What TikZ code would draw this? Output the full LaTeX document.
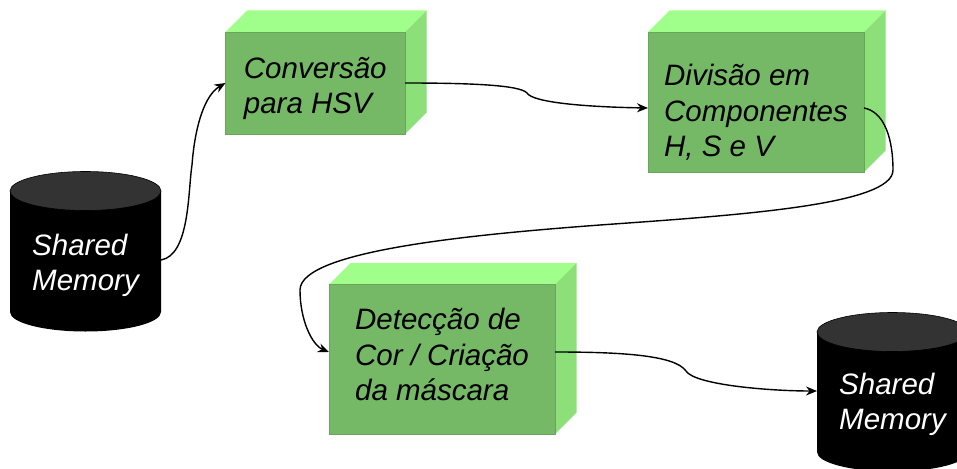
\documentclass[tikz,border=0pt]{standalone}
\usepackage{fontspec}
\setmainfont{Liberation Sans}
\usetikzlibrary{arrows.meta}
\definecolor{frontgreen}{HTML}{75B866}
\definecolor{frontedge}{HTML}{69A65B}
\definecolor{topgreen}{HTML}{A0FF8A}
\definecolor{sidegreen}{HTML}{8CDF79}
\definecolor{cyltop}{HTML}{333333}
\tikzset{
  x=1pt,y=-1pt,
  lbl/.style={font=\fontsize{29.5}{35.8}\itshape\selectfont,align=left,inner sep=0pt,outer sep=0pt},
  boxlbl/.style={lbl,text=black},
  cyllbl/.style={lbl,text=white},
  front/.style={fill=frontgreen,draw=frontedge,line width=0.6pt},
  topface/.style={fill=topgreen},
  sideface/.style={fill=sidegreen},
  link/.style={draw=black,line width=1.4pt,-{Stealth[length=11pt,width=9pt]}},
}
\newcommand{\toprule}[1]{\rule{0pt}{#1pt}}
\newcommand{\botrule}{\rule[-6pt]{0pt}{6pt}}
\newcommand{\blockshape}[4]{% x1,y1,x2,y2 of the front face
  \fill[topface] (#1,#2) -- (#1+21.5,#2-21.5) -- (#3+21.5,#2-21.5) -- (#3,#2) -- cycle;
  \fill[sideface] (#3,#2) -- (#3+21.5,#2-21.5) -- (#3+21.5,#4-21.5) -- (#3,#4) -- cycle;
  \draw[front] (#1,#2) rectangle (#3,#4);
}
\newcommand{\cylshape}[5]{% x1,x2,top centre y,bottom centre y,ry
  \fill[black] (#1,#3) -- (#1,#4) arc[start angle=180,end angle=360,x radius={(#2-#1)/2},y radius=-#5] -- (#2,#3) -- cycle;
  \fill[cyltop,draw=black,line width=0.6pt] ({(#1+#2)/2},#3) ellipse[x radius={(#2-#1)/2},y radius=#5];
}
\begin{document}
\begin{tikzpicture}
\useasboundingbox (0,0) rectangle (957,468);
\clip (0,0) rectangle (957,468);
\cylshape{10}{161}{191}{312}{19.5}
\cylshape{817}{968}{332}{452}{19.5}
\blockshape{225.5}{32}{405}{134}
\blockshape{648}{32}{864}{172}
\blockshape{329}{284.5}{555}{434}
\node[cyllbl,minimum width=151pt] (m1) at (85.5,260) {\toprule{32}Shared\\Memory\botrule};
\node[boxlbl,minimum width=179.5pt] (b1) at (315.25,83) {\toprule{32}Conversão\\para HSV\botrule};
\node[boxlbl,minimum width=216pt] (b2) at (756,108) {\toprule{32}Divisão em\\Componentes\\H, S e V\botrule};
\node[boxlbl,minimum width=226pt] (b3) at (442,352) {\toprule{32}Detecção de\\Cor / Criação\\da máscara\botrule};
\node[cyllbl,minimum width=151pt] (m2) at (892.5,391) {\toprule{48}Shared\\Memory\botrule};
\draw[link] (m1.east) .. controls (190,255) and (188,190) .. (192,165)
  .. controls (195,125) and (205,95) .. (b1.west);
\draw[link] (b1.east) .. controls (470,83) and (520,85) .. (527,93)
  .. controls (533,103) and (590,107) .. (b2.west);
\draw[link] (b2.east) .. controls (885,112) and (893,140) .. (893,170)
  .. controls (893,205) and (740,215) .. (600,225)
  .. controls (480,234) and (300,250) .. (300,290)
  .. controls (300,320) and (312,345) .. (b3.west);
\draw[link] (b3.east) .. controls (620,352) and (675,355) .. (686,371)
  .. controls (695,385) and (770,391) .. (m2.west);
\end{tikzpicture}
\end{document}
